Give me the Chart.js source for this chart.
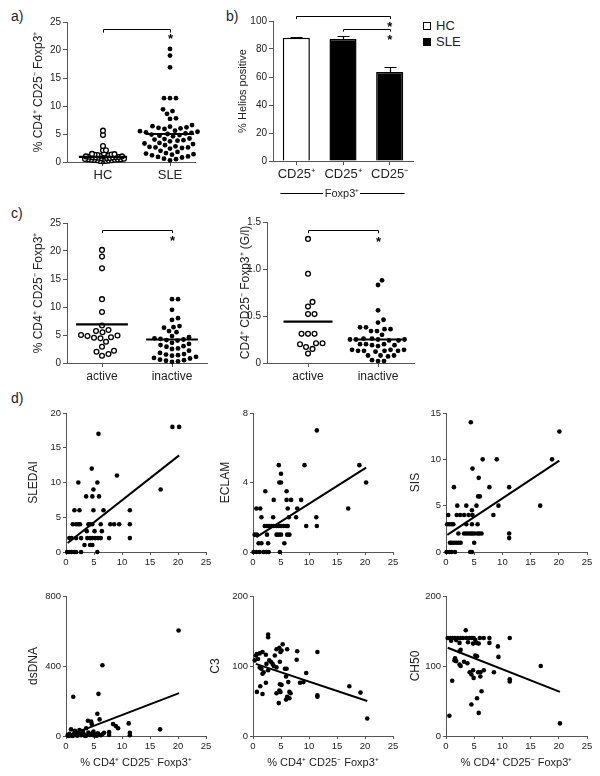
<!DOCTYPE html>
<html>
<head>
<meta charset="utf-8">
<script src="https://cdn.jsdelivr.net/npm/chart.js@4.4.1/dist/chart.umd.min.js"></script>
<style>
  html, body { margin: 0; padding: 0; background: #fff; }
  body { width: 600px; height: 776px; position: relative; overflow: hidden; font-family: "Liberation Sans", Arial, sans-serif; color: #222; }
  .box { position: absolute; }
  .tag { position: absolute; font-size: 14px; line-height: 14px; }
  .leg { position: absolute; font-size: 13px; line-height: 14px; display: flex; align-items: center; }
  .leg i { display: inline-block; width: 8px; height: 8px; border: 1px solid #000; margin-right: 5px; box-sizing: border-box; }
</style>
</head>
<body>
<div class="tag" style="left:11px;top:9px">a)</div>
<div class="tag" style="left:226px;top:9px">b)</div>
<div class="tag" style="left:11px;top:206px">c)</div>
<div class="tag" style="left:11px;top:391px">d)</div>
<div class="leg" style="left:423px;top:19px"><i style="background:#fff"></i>HC</div>
<div class="leg" style="left:423px;top:35px"><i style="background:#000"></i>SLE</div>

<div class="box" id="pa"><canvas id="ca"></canvas></div>
<div class="box" id="pb"><canvas id="cb"></canvas></div>
<div class="box" id="pc1"><canvas id="cc1"></canvas></div>
<div class="box" id="pc2"><canvas id="cc2"></canvas></div>
<div class="box" id="pd1"><canvas id="cd1"></canvas></div>
<div class="box" id="pd2"><canvas id="cd2"></canvas></div>
<div class="box" id="pd3"><canvas id="cd3"></canvas></div>
<div class="box" id="pd4"><canvas id="cd4"></canvas></div>
<div class="box" id="pd5"><canvas id="cd5"></canvas></div>
<div class="box" id="pd6"><canvas id="cd6"></canvas></div>

<script>
// ---- data ----
// a) % CD4+CD25-Foxp3+ in HC vs SLE
const aCats = ['HC', 'SLE'];
const hcPct = [5.6, 4.8, 2.85, 2.1, 2.1, 1.5, 1.45, 1.4, 1.35, 1.3, 1.25, 1.2, 1.15, 1.1, 1.05, 1.0, 1.0, 0.95, 0.9, 0.9,
  0.85, 0.8, 0.8, 0.75, 0.7, 0.7, 0.65, 0.6, 0.6, 0.55, 0.5, 0.5, 0.45, 0.4, 0.4, 0.35, 0.3, 0.3, 0.25, 0.2, 0.2, 0.15];
const slePct = [20.2, 19.0, 16.9, 11.4, 11.4, 11.4, 9.4, 9.1, 8.6, 7.8, 7.7, 6.6, 6.4, 6.3, 6.2, 6.1, 6.0, 5.9, 5.6, 5.5,
  5.4, 5.3, 5.2, 5.1, 5.0, 4.9, 4.8, 4.7, 4.6, 4.2, 4.1, 4.0, 3.9, 3.8, 3.7, 3.4, 3.3, 3.2, 3.0, 2.8, 2.7, 2.6, 2.6,
  2.5, 2.4, 2.0, 1.8, 1.6, 1.5, 1.5, 1.4, 1.3, 1.2, 1.0, 0.9, 0.8, 0.6, 0.5, 0.3];
const aMeans = [0.9, 5.0];

// b) % Helios positive
const bLabels = ['CD25\u207A', 'CD25\u207A', 'CD25\u207B'];
const heliosMean = [88, 87.2, 63.5];
const heliosSem = [0.5, 1.9, 3.6];

// c) active vs inactive
const cCats = ['active', 'inactive'];
const activePct = [20.2, 19.0, 16.9, 11.4, 9.1, 6.7, 5.9, 5.7, 5.5, 5.0, 4.9, 4.8, 4.6, 4.5, 4.4, 3.8, 2.9, 2.2, 2.0, 1.6, 1.3];
const inactivePct = [11.4, 11.4, 9.5, 8.0, 7.7, 6.6, 6.4, 6.3, 5.7, 5.5, 4.8, 4.6, 4.4, 4.3, 4.2, 4.1, 4.0, 3.6, 3.4, 3.2,
  3.0, 2.9, 2.6, 2.5, 2.2, 1.8, 1.6, 1.5, 1.4, 1.3, 1.1, 0.9, 0.8, 0.6, 0.5, 0.4, 0.3, 0.2];
const cPctMeans = [6.9, 4.2];
const activeAbs = [1.32, 0.95, 0.65, 0.6, 0.52, 0.52, 0.31, 0.31, 0.31, 0.21, 0.21, 0.2, 0.17, 0.15, 0.1];
const inactiveAbs = [0.88, 0.83, 0.56, 0.46, 0.43, 0.38, 0.38, 0.36, 0.36, 0.34, 0.34, 0.3, 0.26, 0.26, 0.25, 0.25, 0.25,
  0.25, 0.24, 0.24, 0.2, 0.2, 0.2, 0.19, 0.19, 0.18, 0.14, 0.14, 0.14, 0.13, 0.13, 0.13, 0.13, 0.12, 0.08, 0.08, 0.08,
  0.07, 0.03, 0.02, 0.02];
const cAbsMeans = [0.44, 0.25];

// d) correlations, [% CD4+CD25-Foxp3+, score]
const sledai = [[19,18],[20.2,18],[5.8,17],[4.6,12],[9.1,11],[2.2,10],[5.6,10],[16.9,9],[4.9,9],[3.6,8],[4.7,8],[5.9,8],
  [1.5,6],[2.4,6],[4.9,6],[6.7,6],[11.4,6],
  [1.2,4],[1.8,4],[2.2,4],[2.5,4],[4.0,4],[4.3,4],[4.7,4],[6.2,4],[7.9,4],[8.6,4],[9.5,4],[11.4,4],
  [3.7,3],[5.1,3],[6.4,3],
  [0.6,2],[1.0,2],[1.8,2],[2.7,2],[3.8,2],[4.3,2],[4.7,2],[5.2,2],[5.7,2],[6.2,2],[7.7,2],[11.4,2],
  [3.3,1],[4.3,1],[4.7,1],
  [0.2,0],[0.6,0],[1.0,0],[1.5,0],[1.8,0],[2.7,0],[5.6,0]];
const sledaiFit = [[0.3,1.3],[20.2,13.9]];

const eclam = [[11.4,7],[4.6,5],[9.2,5],[19,5],[5.0,4.5],[4.7,4],[5.0,4],[20.2,4],[2.2,3.5],[6.0,3.5],[3.7,3],[6.0,3],[6.8,3],[8.6,3],
  [0.6,2.5],[1.3,2.5],[6.2,2.5],[7.9,2.5],[17,2.5],
  [1.5,2],[3.6,2],[6.4,2],[7.7,2],[11.3,2],
  [2.1,1.5],[2.5,1.5],[2.9,1.5],[3.3,1.5],[3.7,1.5],[4.2,1.5],[4.6,1.5],[5.0,1.5],[5.5,1.5],[5.9,1.5],[6.2,1.5],[9.5,1.5],[11.4,1.5],
  [0.3,1],[0.7,1],[2.5,1],[4.2,1],[4.6,1],[5.0,1],[6.1,1],[6.5,1],
  [1.0,0.5],[1.5,0.5],[2.7,0.5],[5.6,0.5],
  [0.1,0],[0.6,0],[1.2,0],[1.9,0],[2.4,0],[2.8,0],[4.8,0]];
const eclamFit = [[0.6,0.86],[20.2,4.86]];

const sis = [[4.4,14],[20.1,13],[6.5,10],[9.0,10],[18.8,10],[4.7,9],[5.8,8],[1.4,7],[7.7,7],[11.2,7],[5.7,6],[6.0,6],
  [2.0,5],[3.6,5],[5.4,5],[9.3,5],[16.7,5],[4.6,4.5],
  [0.4,4],[1.9,4],[2.5,4],[3.2,4],[4.0,4],[4.7,4],[8.4,4],
  [0.2,3],[0.6,3],[1.0,3],[1.3,3],[3.6,3],[4.6,3],[5.6,3],
  [2.2,2],[3.2,2],[3.6,2],[4.0,2],[4.4,2],[4.7,2],[5.1,2],[5.6,2],[5.9,2],[6.3,2],[11.2,2],
  [11.2,1.5],
  [0.7,1],[1.0,1],[1.4,1],[1.8,1],[2.2,1],[2.6,1],[5.0,1],
  [0.1,0],[0.6,0],[1.0,0],[1.6,0],[4.3,0],[4.6,0]];
const sisFit = [[0.24,1.84],[20.1,9.86]];

const dsdna = [[20.1,603],[6.5,404],[1.3,224],[5.8,241],[5.6,127],[6.0,95],[3.9,87],[4.5,82],[4.6,68],[8.4,68],[8.9,57],
  [9.3,44],[11.2,72],[16.8,38],[0.9,38],[2.4,34],[3.0,28],[3.6,44],
  [0.3,5],[0.6,12],[1.0,3],[1.5,18],[1.8,8],[2.2,15],[2.7,5],[3.2,10],[3.6,2],[4.0,20],[4.3,6],[4.7,14],[5.0,3],
  [5.3,9],[5.7,16],[6.2,4],[6.5,10],[7.7,22],[7.7,6],[11.4,18],[11.4,4],[0.5,0],[1.2,0],[2.0,2],[2.5,22],[3.4,0],
  [4.9,25],[5.5,2],[6.8,18],[1.6,30],[2.8,12]];
const dsdnaFit = [[0.3,1],[20.2,245]];

const c3 = [[2.7,145],[2.7,141],[5.3,131],[4.7,126],[4.2,124],[6.1,124],[7.9,121],[11.5,120],[5.1,122],[4.9,120],
  [1.2,118],[1.7,120],[0.5,115],[0.7,117],[2.3,116],[3.9,115],[7.8,109],[0.3,108],[0.9,110],[2.9,108],[3.2,106],
  [4.8,106],[2.4,103],[3.5,103],[3.7,100],[1.2,98],[1.5,96],[4.2,98],[5.7,96],[6.0,96],[2.7,94],[9.5,90],[1.7,89],
  [1.9,91],[5.9,85],[2.3,76],[6.3,77],[8.4,76],[9.0,77],[1.3,71],[4.8,74],[5.1,73],[17.2,71],[0.7,63],[1.7,60],
  [4.2,61],[6.5,63],[6.7,61],[4.7,65],[4.9,63],[19.2,62],[11.5,58],[11.5,56],[5.9,52],[6.1,56],[6.5,54],[4.6,47],[20.4,25]];
const c3Fit = [[0.5,103],[20.4,50]];

const ch50 = [[3.5,151],[0.3,140],[0.8,140],[1.2,140],[1.6,140],[2.1,140],[2.6,140],[3.0,140],[3.6,140],[4.2,140],
  [4.6,140],[4.9,140],[6.0,140],[6.7,140],[7.7,140],[11.3,140],[0.9,136],[1.8,137],[2.4,133],[3.9,134],[4.8,132],
  [5.4,133],[5.8,132],[7.7,133],[5.2,137],[9.2,128],[2.6,123],[2.4,121],[5.2,115],[5.5,114],[1.6,111],[1.5,108],
  [1.8,107],[9.3,113],[3.2,106],[3.8,104],[2.4,102],[2.6,100],[4.2,91],[4.5,88],[4.8,94],[4.9,83],[5.7,91],[6.1,91],
  [6.7,94],[6.1,85],[8.5,91],[11.3,81],[11.3,78],[1.1,79],[16.8,100],[6.3,64],[5.5,54],[4.5,45],[5.8,33],[0.6,29],[20.2,18]];
const ch50Fit = [[0.3,126],[20.2,63]];

const xLabel = '% CD4\u207A CD25\u207B Foxp3\u207A';

// ---- setup ----
const AX = '#555';
const FONT = '"Liberation Sans", Arial, sans-serif';
Chart.defaults.font.family = FONT;
Chart.defaults.color = '#222';
Chart.defaults.animation = false;
Chart.defaults.plugins.legend.display = false;
Chart.defaults.plugins.tooltip.enabled = false;

function place(id, a, yW, xH, padTop, padRight) {
  const el = document.getElementById(id);
  el.style.left = (a.l - yW) + 'px';
  el.style.top = (a.t - padTop) + 'px';
  el.style.width = (yW + a.r - a.l + padRight) + 'px';
  el.style.height = (padTop + a.b - a.t + xH) + 'px';
}

function yAxis(o) {
  const ticks = { stepSize: o.step, padding: 2, font: { size: o.ts || 10 } };
  if (o.cb) ticks.callback = o.cb;
  return {
    type: 'linear', min: 0, max: o.max,
    border: { display: true, color: AX },
    grid: { drawOnChartArea: false, tickLength: o.tl || 4, color: AX },
    ticks: ticks,
    title: { display: true, text: o.title, padding: 0, font: { size: o.fs || 12, lineHeight: 1.2 } },
    afterFit: s => { s.width = o.w; }
  };
}

function catX(o) {
  return {
    type: 'linear', min: o.min, max: o.max,
    border: { display: true, color: AX },
    grid: { drawOnChartArea: false, tickLength: 4, color: AX },
    afterBuildTicks: s => { s.ticks = [{ value: 1 }, { value: 2 }]; },
    ticks: { padding: 2, font: { size: o.ts }, autoSkip: false, maxRotation: 0, callback: (v, i) => o.names[i] },
    afterFit: s => { s.height = o.h; }
  };
}

// simple bee-swarm layout so the dots of one group don't overlap
function swarm(values, center, pxX, pxY, d) {
  const placed = [];
  values.slice().sort((p, q) => p - q).forEach(v => {
    const py = v * pxY;
    let off = 0;
    for (let k = 0; k < 600; k++) {
      const cand = (k % 2 ? 1 : -1) * Math.ceil(k / 2) * 0.5;
      if (placed.every(p => (p.px - cand) ** 2 + (p.py - py) ** 2 >= d * d)) { off = cand; break; }
    }
    placed.push({ px: off, py: py });
  });
  return placed.map(p => ({ x: center + p.px / pxX, y: p.py / pxY }));
}

function meanLine(center, m, half) {
  return { data: [{ x: center - half, y: m }, { x: center + half, y: m }], showLine: true,
    borderColor: '#000', borderWidth: 2.2, pointRadius: 0, clip: false };
}

function dots(pts, open, r) {
  return { data: pts, pointRadius: r || 2.4, clip: false,
    backgroundColor: open ? '#fff' : '#000', borderColor: '#000', borderWidth: open ? 1.3 : 0 };
}

function bracket(top, drop, star) {
  return {
    id: 'bracket',
    afterDatasetsDraw(chart) {
      const { ctx, scales: { x, y } } = chart;
      const x1 = Math.round(x.getPixelForValue(1)) + 0.5, x2 = Math.round(x.getPixelForValue(2)) + 0.5;
      const yt = Math.round(y.getPixelForValue(top)) + 0.5, yd = y.getPixelForValue(drop);
      ctx.save();
      ctx.strokeStyle = '#000'; ctx.lineWidth = 1;
      ctx.beginPath();
      ctx.moveTo(x1, yd); ctx.lineTo(x1, yt); ctx.lineTo(x2, yt); ctx.lineTo(x2, yd);
      ctx.stroke();
      ctx.fillStyle = '#000';
      ctx.font = 'bold 13px ' + FONT;
      ctx.textAlign = 'center'; ctx.textBaseline = 'middle';
      ctx.fillText('*', x2, y.getPixelForValue(star) + 3);
      ctx.restore();
    }
  };
}

function dotChart(id, a, groups, means, o, plugin) {
  const pxX = (a.r - a.l) / (o.max - o.min);
  const pxY = (a.b - a.t) / o.yMax;
  const ds = [
    meanLine(1, means[0], o.half), meanLine(2, means[1], o.half),
    dots(swarm(groups[0], 1, pxX, pxY, o.d[0]), true),
    dots(swarm(groups[1], 2, pxX, pxY, o.d[1]), false)
  ];
  new Chart(id, {
    type: 'scatter',
    data: { datasets: ds },
    options: {
      responsive: true, maintainAspectRatio: false,
      layout: { padding: { top: 8, right: 8, left: 0, bottom: 0 } },
      scales: {
        x: catX({ min: o.min, max: o.max, names: o.names, ts: o.ts, h: 28 }),
        y: yAxis({ max: o.yMax, step: o.step, title: o.title, w: o.w, cb: o.cb })
      }
    },
    plugins: [plugin]
  });
}

// ---- a) ----
const A = { l: 67, t: 22, r: 195, b: 162 };
place('pa', A, 36, 28, 8, 8);
dotChart('ca', A, [hcPct, slePct], aMeans,
  { min: 0.463, max: 2.373, yMax: 25, step: 5, title: xLabel, w: 36, names: aCats, ts: 13, half: 0.36, d: [2.6, 5.8] },
  bracket(23.7, 23.1, 22.4));

// ---- c) ----
const CL = { l: 67, t: 223, r: 207, b: 363 };
place('pc1', CL, 36, 28, 8, 8);
dotChart('cc1', CL, [activePct, inactivePct], cPctMeans,
  { min: 0.5, max: 2.5, yMax: 25, step: 5, title: xLabel, w: 36, names: cCats, ts: 12, half: 0.37, d: [6.4, 5.8] },
  bracket(23.75, 23.2, 22.2));

const CR = { l: 267, t: 222, r: 414, b: 363 };
place('pc2', CR, 29, 28, 8, 8);
dotChart('cc2', CR, [activeAbs, inactiveAbs], cAbsMeans,
  { min: 0.414, max: 2.514, yMax: 1.5, step: 0.5, title: 'CD4\u207A CD25\u207B Foxp3\u207A (G/l)', w: 29,
    names: cCats, ts: 12, half: 0.35, d: [6.4, 6.0], cb: v => v === 0 ? '0' : v.toFixed(1) },
  bracket(1.415, 1.38, 1.31));

// ---- b) ----
const B = { l: 273, t: 21, r: 413, b: 161 };
place('pb', B, 37, 44, 10, 6);
const bAnnot = {
  id: 'bAnnot',
  afterDatasetsDraw(chart) {
    const { ctx, scales: { x, y } } = chart;
    ctx.save();
    ctx.strokeStyle = '#000'; ctx.lineWidth = 1.2;
    heliosMean.forEach((m, i) => {
      const cx = Math.round(x.getPixelForValue(i)) + 0.5;
      const y0 = y.getPixelForValue(m), y1 = Math.round(y.getPixelForValue(m + heliosSem[i])) + 0.5;
      ctx.beginPath();
      ctx.moveTo(cx, y0); ctx.lineTo(cx, y1);
      ctx.moveTo(cx - 6, y1); ctx.lineTo(cx + 6, y1);
      ctx.stroke();
    });
    ctx.lineWidth = 1;
    [[0, 103.8, 101.4], [1, 94.3, 92.4]].forEach(([from, top, drop]) => {
      const x1 = Math.round(x.getPixelForValue(from)) + 0.5, x2 = Math.round(x.getPixelForValue(2)) + 0.5;
      const yt = Math.round(y.getPixelForValue(top)) + 0.5, yd = y.getPixelForValue(drop);
      ctx.beginPath();
      ctx.moveTo(x1, yd); ctx.lineTo(x1, yt); ctx.lineTo(x2, yt); ctx.lineTo(x2, yd);
      ctx.stroke();
    });
    ctx.fillStyle = '#000';
    ctx.font = 'bold 13px ' + FONT;
    ctx.textAlign = 'center'; ctx.textBaseline = 'middle';
    [97.9, 88.6].forEach(v => ctx.fillText('*', x.getPixelForValue(2), y.getPixelForValue(v) + 3));
    // Foxp3+ group label
    const ly = Math.round(chart.chartArea.bottom + 32) + 0.5;
    const c0 = x.getPixelForValue(0), c1 = x.getPixelForValue(1), c2 = x.getPixelForValue(2);
    ctx.beginPath();
    ctx.moveTo(c0 - 16, ly); ctx.lineTo(c1 - 20, ly);
    ctx.moveTo(c1 + 17, ly); ctx.lineTo(c2 + 15, ly);
    ctx.stroke();
    ctx.font = '11px ' + FONT;
    ctx.fillStyle = '#222';
    ctx.fillText('Foxp3\u207A', c1 - 1, ly);
    ctx.restore();
  }
};
new Chart('cb', {
  type: 'bar',
  data: { labels: bLabels, datasets: [{ data: heliosMean, backgroundColor: ['#fff', '#000', '#000'],
    borderColor: '#000', borderWidth: 1.5, barPercentage: 0.58, categoryPercentage: 1 }] },
  options: {
    responsive: true, maintainAspectRatio: false,
    layout: { padding: { top: 10, right: 6, left: 0, bottom: 0 } },
    scales: {
      x: {
        border: { display: true, color: AX },
        grid: { drawOnChartArea: false, tickLength: 4, color: AX, offset: false },
        ticks: { padding: 2, font: { size: 13 }, maxRotation: 0 },
        afterFit: s => { s.height = 44; }
      },
      y: yAxis({ max: 100, step: 20, title: '% Helios positive', fs: 11, w: 37 })
    }
  },
  plugins: [bAnnot]
});

// ---- d) ----
function scatterD(id, a, yW, pts, fit, o) {
  const xH = o.xTitle ? 34 : 20;
  place('p' + id.slice(1), a, yW, xH, 8, 8);
  new Chart(id, {
    type: 'scatter',
    data: { datasets: [
      { data: fit.map(p => ({ x: p[0], y: p[1] })), showLine: true, borderColor: '#000', borderWidth: 2,
        pointRadius: 0, clip: false },
      dots(pts.map(p => ({ x: p[0], y: p[1] })), false, 2.3)
    ] },
    options: {
      responsive: true, maintainAspectRatio: false,
      layout: { padding: { top: 8, right: 8, left: 0, bottom: 0 } },
      scales: {
        x: {
          type: 'linear', min: 0, max: 25,
          border: { display: true, color: AX },
          grid: { drawOnChartArea: false, tickLength: 3, color: AX },
          ticks: { stepSize: 5, padding: 2, font: { size: 9.5 }, maxRotation: 0 },
          title: { display: !!o.xTitle, text: xLabel, padding: 0, font: { size: 11, lineHeight: 1.2 } },
          afterFit: s => { s.height = xH; }
        },
        y: yAxis({ max: o.max, step: o.step, title: o.title, w: yW, ts: 9.5, tl: 3 })
      }
    }
  });
}

const r1 = { t: 413, b: 552 }, r2 = { t: 596, b: 736 };
const col = [{ l: 66, r: 206 }, { l: 253, r: 393 }, { l: 446, r: 587 }];
scatterD('cd1', Object.assign({}, col[0], r1), 40, sledai, sledaiFit, { max: 20, step: 5, title: 'SLEDAI' });
scatterD('cd2', Object.assign({}, col[1], r1), 35, eclam, eclamFit, { max: 8, step: 4, title: 'ECLAM' });
scatterD('cd3', Object.assign({}, col[2], r1), 38, sis, sisFit, { max: 15, step: 5, title: 'SIS' });
scatterD('cd4', Object.assign({}, col[0], r2), 40, dsdna, dsdnaFit, { max: 800, step: 400, title: 'dsDNA', xTitle: true });
scatterD('cd5', Object.assign({}, col[1], r2), 45, c3, c3Fit, { max: 200, step: 100, title: 'C3', xTitle: true });
scatterD('cd6', Object.assign({}, col[2], r2), 38, ch50, ch50Fit, { max: 200, step: 100, title: 'CH50', xTitle: true });
</script>
</body>
</html>
